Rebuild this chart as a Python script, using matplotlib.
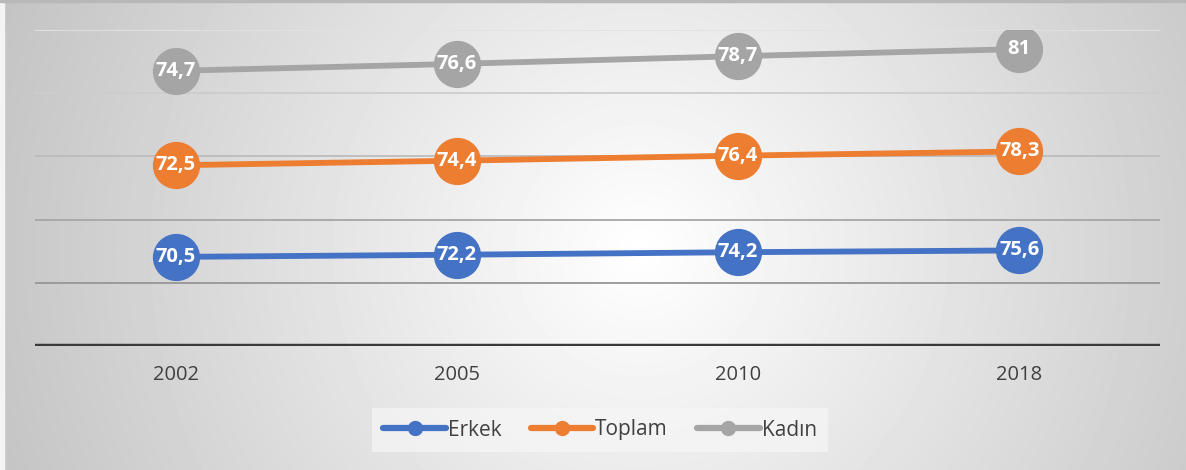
import matplotlib.pyplot as plt
import numpy as np
from matplotlib.lines import Line2D
from matplotlib.patches import Rectangle

years = ["2002", "2005", "2010", "2018"]
erkek = [70.5, 72.2, 74.2, 75.6]
toplam = [72.5, 74.4, 76.4, 78.3]
kadin = [74.7, 76.6, 78.7, 81.0]
names = ["Erkek", "Toplam", "Kadın"]
colors = ["#4472c4", "#ed7d31", "#a5a5a5"]

W, H = 1186, 470
fig = plt.figure(figsize=(W / 100, H / 100), dpi=100)

# radial grey background
bg = fig.add_axes([0, 0, 1, 1], zorder=-10)
yy, xx = np.mgrid[0:H, 0:W]
d = np.sqrt((xx - 640) ** 2 + (yy - 250) ** 2) / 700
shade = np.clip(1 - 0.24 * d, 0, 1)
bg.imshow(shade, cmap="gray", vmin=0, vmax=1, aspect="auto", extent=[0, 1, 0, 1])
bg.axis("off")
# thin frame bits at the edge
fig.patches.append(Rectangle((0, 0), 4 / W, 1, transform=fig.transFigure,
                             color="#f4f4f4", zorder=-5))
fig.patches.append(Rectangle((0, 1 - 2 / H), 1, 2 / H, transform=fig.transFigure,
                             color="#b8b8b8", zorder=-5))

ax = fig.add_axes([35 / W, 1 - 346 / H, 1125 / W, 316 / H])
ax.patch.set_alpha(0)

x = np.arange(len(years))
# stacked line chart: each series sits on top of the previous ones
series = [erkek, toplam, kadin]
stacked = np.cumsum(np.array(series), axis=0)

for vals, top, name, c in zip(series, stacked, names, colors):
    ax.plot(x, top, color=c, lw=4.2, marker="o", markersize=33,
            solid_capstyle="round", zorder=3)
    for xi, yi, v in zip(x, top, vals):
        txt = f"{v:g}".replace(".", ",")
        ax.text(xi, yi, txt, ha="center", va="center", color="white",
                fontsize=14.5, fontweight="bold", family="Open Sans", zorder=4)

grid_cols = {50: "#969696", 100: "#a6a6a6", 150: "#bcbcbc", 200: "#cdcdcd", 250: "#e2e2e2"}
for gy, gc in grid_cols.items():
    ax.axhline(gy, color=gc, lw=1.3, zorder=1)
ax.axhline(0, color="#3a3a3a", lw=3.2, zorder=2)

ax.set_xlim(-0.5, 3.5)
ax.set_ylim(0, 250)
ax.set_yticks([])
ax.set_xticks(x)
ax.set_xticklabels(years, fontsize=14.5, color="#404040", family="Open Sans")
ax.tick_params(axis="x", length=0, pad=14)
for s in ax.spines.values():
    s.set_visible(False)

handles = [Line2D([0], [0], color=c, lw=4.5, marker="o", markersize=10,
                  solid_capstyle="round") for c in colors]
leg = fig.legend(handles, names, loc="center", bbox_to_anchor=(600 / W, 1 - 430 / H),
                 ncol=3, frameon=True, handlelength=3.0,
                 columnspacing=1.4, handletextpad=0.1, borderpad=0.55,
                 prop={"family": "Open Sans", "size": 15})
leg.get_frame().set_facecolor("#f6f6f6")
leg.get_frame().set_edgecolor("none")
leg.get_frame().set_alpha(0.7)
leg.get_frame().set_boxstyle("square", pad=0)
for t in leg.get_texts():
    t.set_color("#404040")

fig.savefig("out.png", dpi=100)
